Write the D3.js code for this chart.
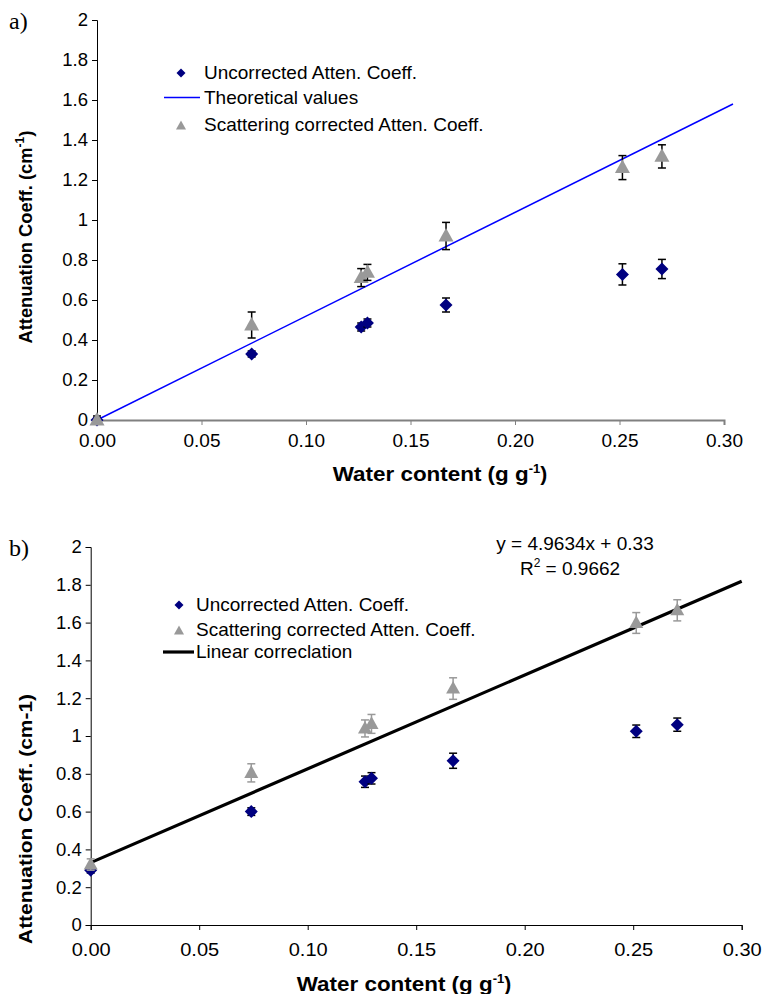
<!DOCTYPE html>
<html>
<head>
<meta charset="utf-8">
<script src="https://cdn.jsdelivr.net/npm/d3@7"></script>
<style>
  body { margin: 0; background: #fff; }
  svg text { font-family: "Liberation Sans", Arial, sans-serif; }
</style>
</head>
<body>
<div id="wrapper"></div>
<script>
// ---- data ----
const waterX = [0.000, 0.074, 0.1264, 0.1294, 0.167, 0.2514, 0.2703];

// panel a)
const aUncorr    = [0.00, 0.33, 0.465, 0.485, 0.575, 0.728, 0.755];
const aUncorrErr = [0.01, 0.015, 0.02, 0.02, 0.035, 0.053, 0.048];
const aScat      = [0.00, 0.475, 0.712, 0.738, 0.92, 1.262, 1.318];
const aScatErr   = [0.02, 0.065, 0.045, 0.04, 0.068, 0.06, 0.058];
const theoryX    = [0, 0.3043];
const theoryY    = [0, 1.58];

// panel b)
const bUncorr    = [0.29, 0.60, 0.758, 0.776, 0.869, 1.025, 1.060];
const bUncorrErr = [0.015, 0.02, 0.03, 0.03, 0.04, 0.033, 0.035];
const bScat      = [0.32, 0.805, 1.04, 1.064, 1.251, 1.598, 1.665];
const bScatErr   = [0.03, 0.048, 0.045, 0.05, 0.057, 0.055, 0.056];
const fitSlope = 4.9634, fitIntercept = 0.33;
const fitX = [0, 0.30];

const xTicks = [0, 0.05, 0.10, 0.15, 0.20, 0.25, 0.30];
const yTicks = [0, 0.2, 0.4, 0.6, 0.8, 1, 1.2, 1.4, 1.6, 1.8, 2];

const navy = "#000080", grey = "#999999";
const fs = 19; // label font size

const svg = d3.select("#wrapper").append("svg")
  .attr("width", 775).attr("height", 994);

function diamond(g, x, y, r, fill) {
  g.append("path")
    .attr("d", `M${x},${y - r}L${x + r},${y}L${x},${y + r}L${x - r},${y}Z`)
    .attr("fill", fill);
}
function triangle(g, x, y, w, fill) {
  const h = w * 0.9;
  g.append("path")
    .attr("d", `M${x},${y - h * 0.6}L${x + w / 2},${y + h * 0.4}L${x - w / 2},${y + h * 0.4}Z`)
    .attr("fill", fill);
}
function errBar(g, x, y, e, xs, ys, col) {
  const top = ys(y + e), bot = ys(y - e), px = xs(x);
  g.append("line").attr("x1", px).attr("x2", px).attr("y1", top).attr("y2", bot)
    .attr("stroke", col).attr("stroke-width", 1.5);
  [top, bot].forEach(v => g.append("line")
    .attr("x1", px - 4).attr("x2", px + 4).attr("y1", v).attr("y2", v)
    .attr("stroke", col).attr("stroke-width", 1.5));
}

function drawAxes(g, xs, ys, xAxisCol, xAxisW, xPad, xLabW) {
  // y axis
  const ya = g.append("g").attr("transform", `translate(${xs.range()[0]},0)`)
    .call(d3.axisLeft(ys).tickValues(yTicks).tickSize(5).tickPadding(4)
      .tickFormat(d => String(+d.toFixed(1))));
  ya.select(".domain").attr("stroke", "#000").attr("stroke-width", 1);
  ya.selectAll(".tick line").attr("stroke", "#000");
  ya.selectAll("text").attr("font-size", 18.5).attr("fill", "#000")
    .style("font-family", '"Liberation Sans", Arial, sans-serif');
  // x axis
  const xa = g.append("g").attr("transform", `translate(0,${ys.range()[0]})`)
    .call(d3.axisBottom(xs).tickValues(xTicks).tickSize(5).tickSizeOuter(5).tickPadding(xPad)
      .tickFormat(d3.format(".2f")));
  xa.select(".domain").attr("stroke", xAxisCol).attr("stroke-width", xAxisW);
  xa.selectAll(".tick line").attr("stroke", xAxisCol);
  xa.selectAll("text").attr("font-size", 19).attr("fill", "#000")
    .attr("textLength", xLabW).attr("lengthAdjust", "spacingAndGlyphs")
    .style("font-family", '"Liberation Sans", Arial, sans-serif');
}

function axisTitles(g, xTitleX, xTitleY, yTitleCenter, yTitleLen, sup) {
  const xt = g.append("text")
    .attr("x", xTitleX).attr("y", xTitleY)
    .attr("text-anchor", "middle").attr("font-size", 21).attr("font-weight", "bold");
  xt.append("tspan").attr("textLength", 196).attr("lengthAdjust", "spacingAndGlyphs")
    .text("Water content (g g");
  xt.append("tspan").attr("dy", -8).attr("font-size", 13).text("-1");
  xt.append("tspan").attr("dy", 8).text(")");

  const yt = g.append("text")
    .attr("transform", `translate(32,${yTitleCenter}) rotate(-90)`)
    .attr("text-anchor", "middle").attr("font-size", 19).attr("font-weight", "bold");
  if (sup) {
    yt.append("tspan").attr("textLength", yTitleLen).attr("lengthAdjust", "spacingAndGlyphs")
      .text("Attenuation Coeff. (cm");
    yt.append("tspan").attr("dy", -8).attr("font-size", 12).text("-1");
    yt.append("tspan").attr("dy", 8).text(")");
  } else {
    yt.attr("textLength", yTitleLen).attr("lengthAdjust", "spacingAndGlyphs")
      .text("Attenuation Coeff. (cm-1)");
  }
}

/* ---------- panel a ---------- */
const ga = svg.append("g");
const xa = d3.scaleLinear().domain([0, 0.30]).range([97, 724]);
const ya = d3.scaleLinear().domain([0, 2]).range([420, 20]);

ga.append("text").attr("x", 9).attr("y", 29).attr("font-size", 24)
  .style("font-family", '"Liberation Serif", "Times New Roman", serif').text("a)");

drawAxes(ga, xa, ya, "#808080", 2, 9, 37);
axisTitles(ga, 440, 481, 237, 196, true);

ga.append("line")
  .attr("x1", xa(theoryX[0])).attr("y1", ya(theoryY[0]))
  .attr("x2", xa(theoryX[1])).attr("y2", ya(theoryY[1]))
  .attr("stroke", "#0000ff").attr("stroke-width", 1.5);

waterX.forEach((x, i) => {
  errBar(ga, x, aUncorr[i], aUncorrErr[i], xa, ya, "#000");
  diamond(ga, xa(x), ya(aUncorr[i]), 6.5, navy);
});
waterX.forEach((x, i) => {
  errBar(ga, x, aScat[i], aScatErr[i], xa, ya, "#000");
  triangle(ga, xa(x), ya(aScat[i]), 15, grey);
});

// legend a
diamond(ga, 181, 73, 4.5, navy);
ga.append("text").attr("x", 204).attr("y", 79).attr("font-size", fs).text("Uncorrected Atten. Coeff.");
ga.append("line").attr("x1", 164).attr("x2", 200).attr("y1", 97.5).attr("y2", 97.5)
  .attr("stroke", "#0000ff").attr("stroke-width", 1.5);
ga.append("text").attr("x", 204).attr("y", 104).attr("font-size", fs).text("Theoretical values");
triangle(ga, 181, 126, 10, grey);
ga.append("text").attr("x", 204).attr("y", 131).attr("font-size", fs).text("Scattering corrected Atten. Coeff.");

/* ---------- panel b ---------- */
const gb = svg.append("g");
const xb = d3.scaleLinear().domain([0, 0.30]).range([90.7, 741.7]);
const yb = d3.scaleLinear().domain([0, 2]).range([925, 547]);

gb.append("text").attr("x", 9).attr("y", 556).attr("font-size", 24)
  .style("font-family", '"Liberation Serif", "Times New Roman", serif').text("b)");

drawAxes(gb, xb, yb, "#000", 1, 13, 39);
axisTitles(gb, 404, 991, 819, 250, false);

gb.append("line")
  .attr("x1", xb(fitX[0])).attr("y1", yb(fitSlope * fitX[0] + fitIntercept))
  .attr("x2", xb(fitX[1])).attr("y2", yb(fitSlope * fitX[1] + fitIntercept))
  .attr("stroke", "#000").attr("stroke-width", 3.2);

waterX.forEach((x, i) => {
  errBar(gb, x, bUncorr[i], bUncorrErr[i], xb, yb, "#000");
  diamond(gb, xb(x), yb(bUncorr[i]), 6.5, navy);
});
waterX.forEach((x, i) => {
  errBar(gb, x, bScat[i], bScatErr[i], xb, yb, grey);
  triangle(gb, xb(x), yb(bScat[i]), 14, grey);
});

// equation
gb.append("text").attr("x", 575).attr("y", 550).attr("text-anchor", "middle")
  .attr("font-size", fs).text(`y = ${fitSlope}x + ${fitIntercept}`);
const r2 = gb.append("text").attr("x", 570).attr("y", 575).attr("text-anchor", "middle").attr("font-size", fs);
r2.append("tspan").text("R");
r2.append("tspan").attr("dy", -8).attr("font-size", 12).text("2");
r2.append("tspan").attr("dy", 8).text(" = 0.9662");

// legend b
diamond(gb, 179, 605, 4.5, navy);
gb.append("text").attr("x", 196).attr("y", 611).attr("font-size", fs).text("Uncorrected Atten. Coeff.");
triangle(gb, 179, 631, 10, grey);
gb.append("text").attr("x", 196).attr("y", 636).attr("font-size", fs).text("Scattering corrected Atten. Coeff.");
gb.append("line").attr("x1", 163).attr("x2", 194).attr("y1", 652).attr("y2", 652)
  .attr("stroke", "#000").attr("stroke-width", 3.2);
gb.append("text").attr("x", 196).attr("y", 658).attr("font-size", fs).text("Linear correclation");
</script>
</body>
</html>
